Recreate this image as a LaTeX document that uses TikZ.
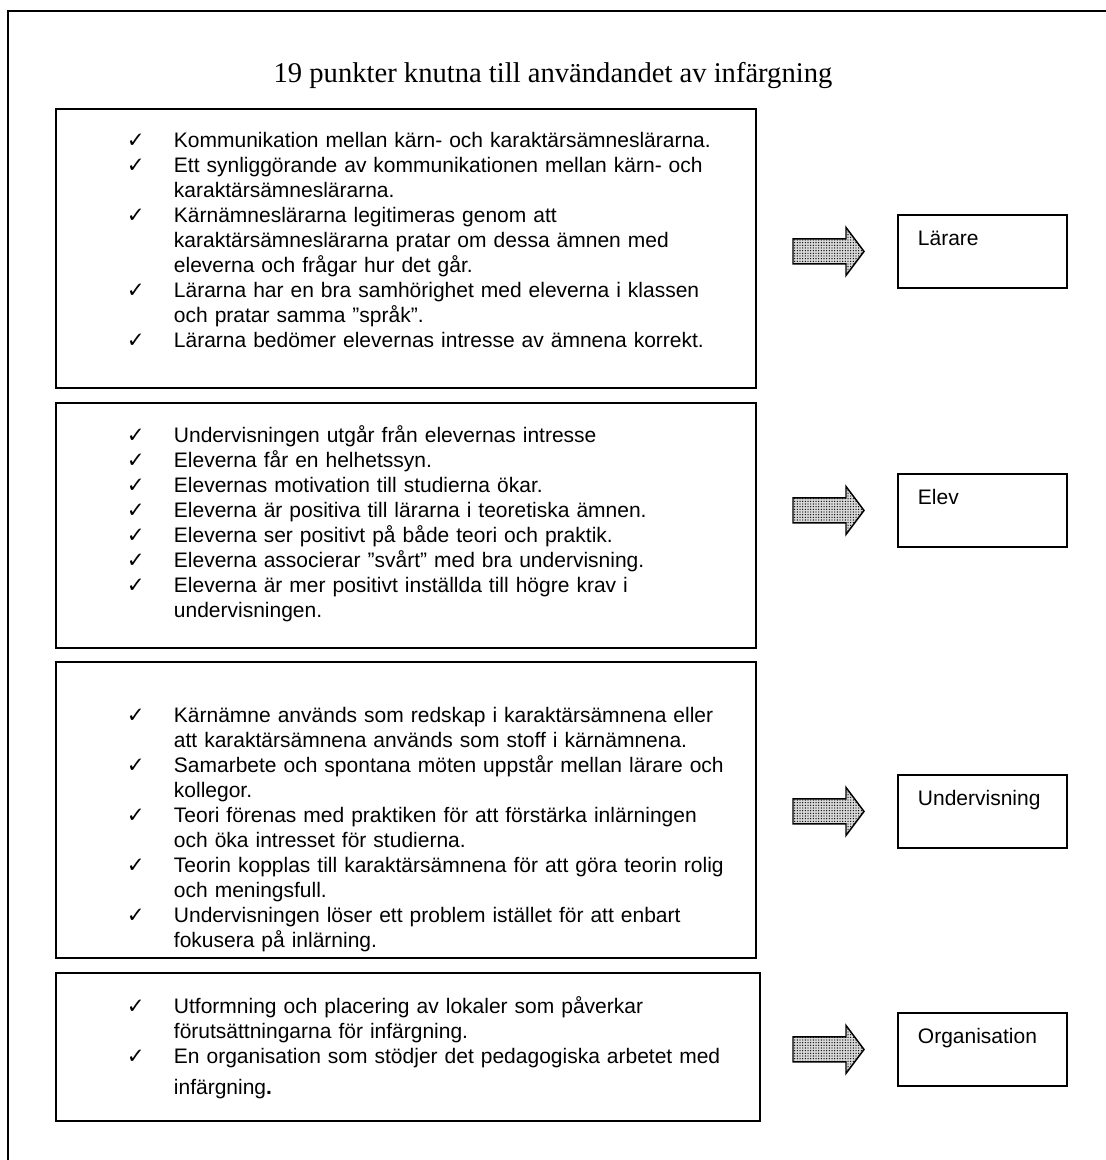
\documentclass[tikz,border=0pt]{standalone}
\usepackage{fontspec}
\setmainfont{Liberation Sans}
\newfontfamily\titelfont{Liberation Serif}
\newfontfamily\bockfont{DejaVu Sans}
\usepackage{tikz}
\usetikzlibrary{patterns}

% fine stipple for the block arrows
\pgfdeclarepatternformonly{prickar}{\pgfqpoint{-1pt}{-1pt}}{\pgfqpoint{1pt}{1pt}}{\pgfqpoint{2pt}{2pt}}
  {\pgfpathcircle{\pgfqpoint{0pt}{0pt}}{0.5pt}\pgfusepath{fill}}

% one ticked point in a list box
\newcommand{\punkt}[1]{{\leftskip=53.25pt\hangindent=35.25pt\hangafter=1\noindent
  \makebox[35.25pt][l]{\bockfont\fontsize{16}{16}\selectfont ✓}#1\par}}

\begin{document}
\begin{tikzpicture}
      [x=0.75pt, y=-0.75pt,
       ram/.style={line width=1.4pt},
       punkter/.style={draw, line width=1.4pt, anchor=north west, inner sep=0pt,
         text width=525pt, font=\fontsize{15.75}{18.75}\selectfont},
       kategori/.style={draw, line width=1.4pt, anchor=north west, inner xsep=15pt,
         inner ysep=0pt, text width=96.75pt, text height=23.25pt, text depth=31.5pt,
         align=left, font=\fontsize{15.75}{18.75}\selectfont},
       pil/.style={draw, line width=1.1pt, fill=gray!30,
         postaction={pattern=prickar, pattern color=black}}]
    \useasboundingbox (0,0) rectangle (1106,1160);
    \draw[ram] (8,1160) |- (1106,11);

    \node[anchor=base, font=\titelfont\fontsize{21.45}{25}\selectfont] (T) at (553,82)
      {19 punkter knutna till användandet av infärgning};

    \node[punkter, text height=29.25pt, text depth=180pt] (P1) at (55,108) {%
      \punkt{Kommunikation mellan kärn- och karaktärsämneslärarna.}%
      \punkt{Ett synliggörande av kommunikationen mellan kärn- och\newline karaktärsämneslärarna.}%
      \punkt{Kärnämneslärarna legitimeras genom att\newline karaktärsämneslärarna pratar om dessa ämnen med\newline eleverna och frågar hur det går.}%
      \punkt{Lärarna har en bra samhörighet med eleverna i klassen\newline och pratar samma ”språk”.}%
      \punkt{Lärarna bedömer elevernas intresse av ämnena korrekt.}};
    \node[punkter, text height=30pt, text depth=153.75pt] (P2) at (55,402) {%
      \punkt{Undervisningen utgår från elevernas intresse}%
      \punkt{Eleverna får en helhetssyn.}%
      \punkt{Elevernas motivation till studierna ökar.}%
      \punkt{Eleverna är positiva till lärarna i teoretiska ämnen.}%
      \punkt{Eleverna ser positivt på både teori och praktik.}%
      \punkt{Eleverna associerar ”svårt” med bra undervisning.}%
      \punkt{Eleverna är mer positivt inställda till högre krav i\newline undervisningen.}};
    \node[punkter, text height=45.75pt, text depth=176.25pt] (P3) at (55,661) {%
      \punkt{Kärnämne används som redskap i karaktärsämnena eller\newline att karaktärsämnena används som stoff i kärnämnena.}%
      \punkt{Samarbete och spontana möten uppstår mellan lärare och\newline kollegor.}%
      \punkt{Teori förenas med praktiken för att förstärka inlärningen\newline och öka intresset för studierna.}%
      \punkt{Teorin kopplas till karaktärsämnena för att göra teorin rolig\newline och meningsfull.}%
      \punkt{Undervisningen löser ett problem istället för att enbart\newline fokusera på inlärning.}};
    \node[punkter, text width=528pt, text height=30.75pt, text depth=80.25pt] (P4) at (55,972) {%
      \punkt{Utformning och placering av lokaler som påverkar\newline förutsättningarna för infärgning.}%
      \punkt{En organisation som stödjer det pedagogiska arbetet med\vspace{4.5pt}\newline infärgning\textbf{.}}};

    \node[kategori] (K1) at (897,214)  {Lärare};
    \node[kategori] (K2) at (897,473)  {Elev};
    \node[kategori] (K3) at (897,774)  {Undervisning};
    \node[kategori] (K4) at (897,1012) {Organisation};

    \foreach \k in {K1,K2,K3,K4}
      \draw[pil, shift={(\k.west)}] (-104,-12.5) -- (-51,-12.5) -- (-51,-24) -- (-33,0)
        -- (-51,24) -- (-51,12.5) -- (-104,12.5) -- cycle;
\end{tikzpicture}
\end{document}
